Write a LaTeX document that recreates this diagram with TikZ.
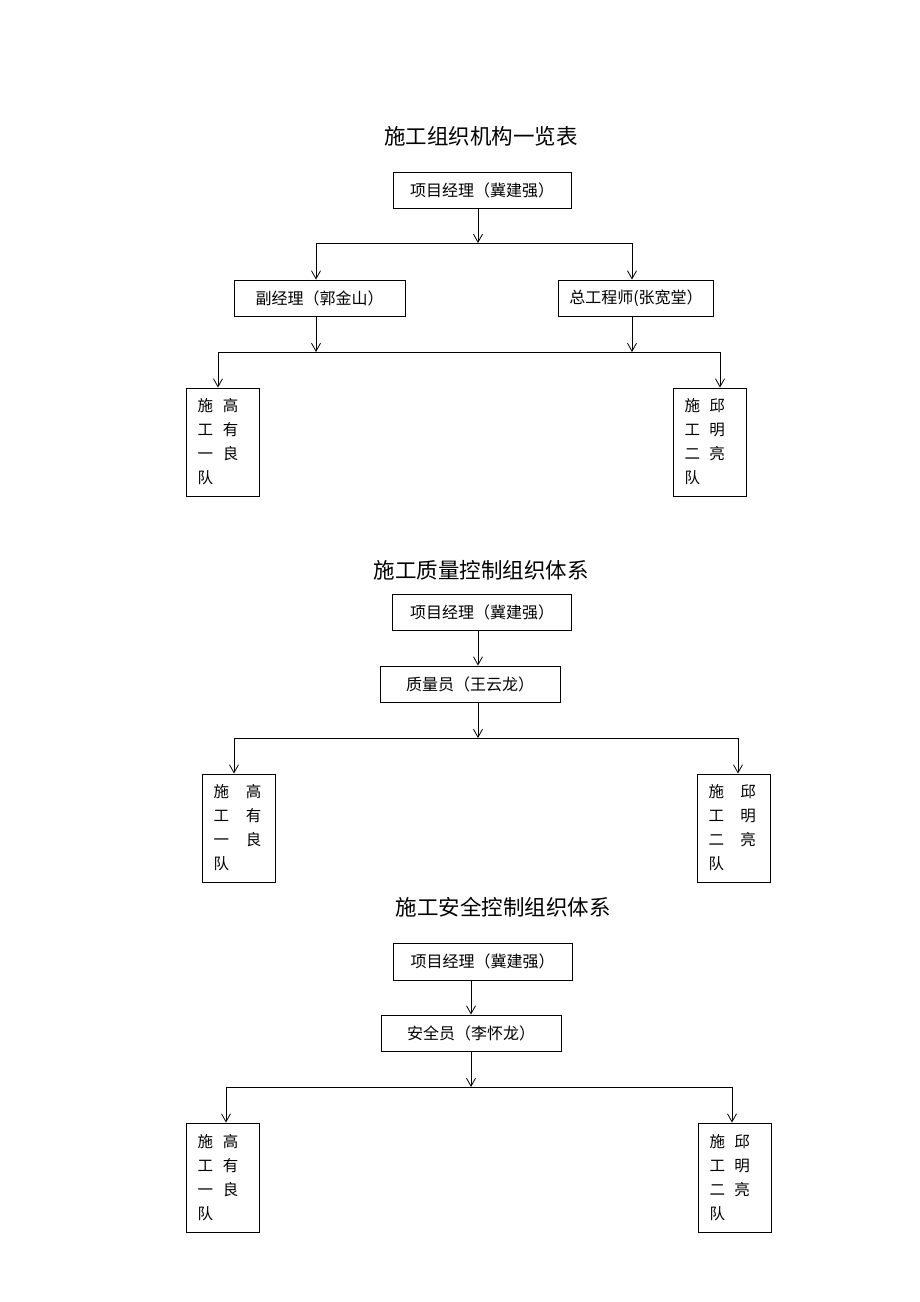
\documentclass[tikz,border=0pt]{standalone}
\usepackage{fontspec}
\setmainfont{Noto Sans CJK SC}
\usepackage{tikz}
\usetikzlibrary{arrows.meta}
\tikzstyle{box}=[draw,line width=0.9pt,inner sep=0pt,minimum height=36pt,font=\fontsize{16}{18}\selectfont]
\tikzstyle{team box}=[box,text width=50pt,inner xsep=11.5pt,minimum height=108pt,align=left,font=\fontsize{15.5}{24}\selectfont]
\tikzstyle{title}=[font=\fontsize{21.5}{24}\selectfont]
\tikzstyle{edge}=[draw,line width=0.8pt,-{Straight Barb[length=8pt,width=9pt]}]
\tikzstyle{line}=[draw,line width=0.8pt]

\begin{document}
\begin{tikzpicture}[x=1pt,y=-1pt]
        \useasboundingbox (0,0) rectangle (920,1302);
        % chart 1
        \node[title] (t1) at (481,136) {施工组织机构一览表};
        \node[box,minimum width=178pt] (pm1) at (482,190) {项目经理（冀建强）};
        \coordinate (j1) at (478,243);
        \coordinate (l1) at (316,243);
        \coordinate (r1) at (632,243);
        \node[box,minimum width=171pt] (vice) at (319.5,298) {副经理（郭金山）};
        \node[box,minimum width=155pt] (chief) at (636,298) {总工程师(张宽堂）};
        \coordinate (k1) at (218,352);
        \coordinate (m1) at (316,352);
        \coordinate (n1) at (632,352);
        \coordinate (p1) at (720,352);
        \node[team box] (team11) at (222.5,442) {施\hspace{10pt}高\\工\hspace{10pt}有\\一\hspace{10pt}良\\队};
        \node[team box] (team12) at (709.5,442) {施\hspace{9.5pt}邱\\工\hspace{9.5pt}明\\二\hspace{9.5pt}亮\\队};
        \draw[edge] (pm1.south -| j1) -- (j1);
        \draw[line] (l1) -- (r1);
        \draw[edge] (l1) -- (l1 |- vice.north);
        \draw[edge] (r1) -- (r1 |- chief.north);
        \draw[edge] (vice.south -| m1) -- (m1);
        \draw[edge] (chief.south -| n1) -- (n1);
        \draw[line] (k1) -- (p1);
        \draw[edge] (k1) -- (k1 |- team11.north);
        \draw[edge] (p1) -- (p1 |- team12.north);
        % chart 2
        \node[title] (t2) at (481,570) {施工质量控制组织体系};
        \node[box,minimum width=179pt] (pm2) at (482,612) {项目经理（冀建强）};
        \node[box,minimum width=180pt] (qual) at (470,684) {质量员（王云龙）};
        \coordinate (a2) at (478,0);
        \coordinate (j2) at (478,738);
        \coordinate (l2) at (234,738);
        \coordinate (r2) at (738,738);
        \node[team box] (team21) at (238.5,828) {施\hspace{17pt}高\\工\hspace{17pt}有\\一\hspace{17pt}良\\队};
        \node[team box] (team22) at (733.5,828) {施\hspace{16.5pt}邱\\工\hspace{16.5pt}明\\二\hspace{16.5pt}亮\\队};
        \draw[edge] (pm2.south -| a2) -- (qual.north -| a2);
        \draw[edge] (qual.south -| a2) -- (j2);
        \draw[line] (l2) -- (r2);
        \draw[edge] (l2) -- (l2 |- team21.north);
        \draw[edge] (r2) -- (r2 |- team22.north);
        % chart 3
        \node[title] (t3) at (503,907) {施工安全控制组织体系};
        \node[box,minimum width=179pt,minimum height=37pt] (pm3) at (482.5,961.5) {项目经理（冀建强）};
        \node[box,minimum width=180pt] (safe) at (471,1033) {安全员（李怀龙）};
        \coordinate (a3) at (471,0);
        \coordinate (j3) at (471,1087);
        \coordinate (l3) at (226,1087);
        \coordinate (r3) at (732,1087);
        \node[team box,minimum height=109pt] (team31) at (222.5,1177.5) {施\hspace{10pt}高\\工\hspace{10pt}有\\一\hspace{10pt}良\\队};
        \node[team box,minimum height=109pt] (team32) at (734.5,1177.5) {施\hspace{9.5pt}邱\\工\hspace{9.5pt}明\\二\hspace{9.5pt}亮\\队};
        \draw[edge] (pm3.south -| a3) -- (safe.north -| a3);
        \draw[edge] (safe.south -| a3) -- (j3);
        \draw[line] (l3) -- (r3);
        \draw[edge] (l3) -- (l3 |- team31.north);
        \draw[edge] (r3) -- (r3 |- team32.north);
\end{tikzpicture}
\end{document}
